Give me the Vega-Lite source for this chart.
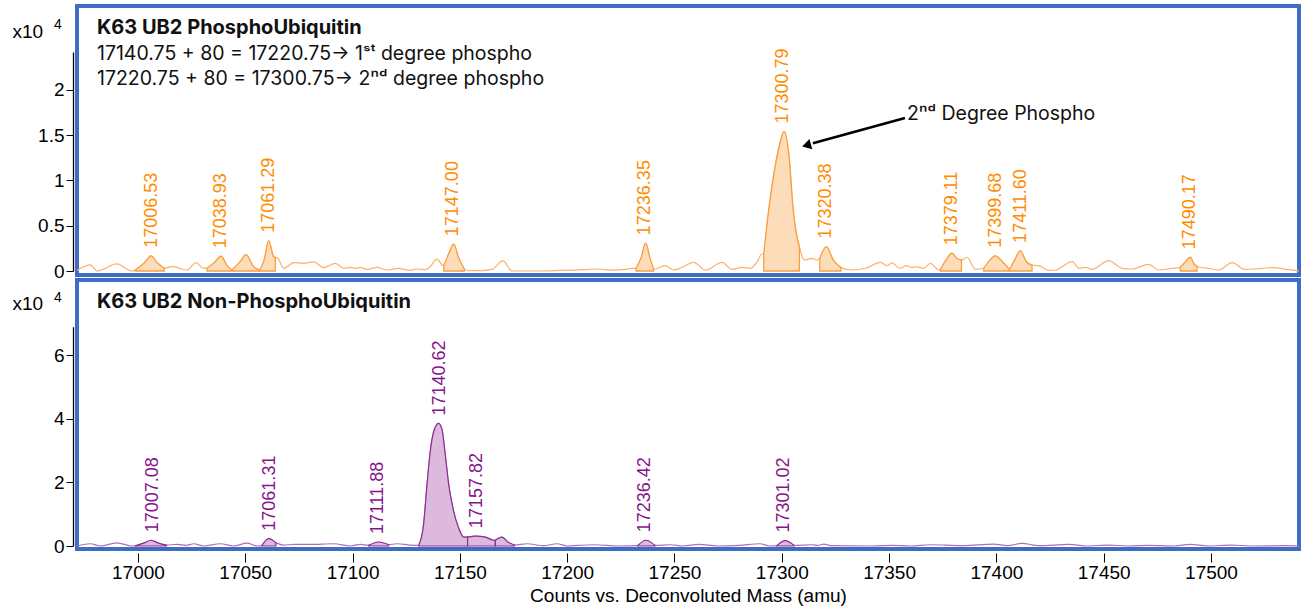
{
  "$schema": "https://vega.github.io/schema/vega-lite/v6.json",
  "padding": {"left": 10, "top": 4, "right": 2, "bottom": 2},
  "background": "white",
  "bounds": "flush",
  "spacing": 5,
  "datasets": {
    "top": [
      {"m":16971.6,"v":0.005},{"m":16977.8,"v":0.067},{"m":16980.9,"v":0.0},{"m":16990.2,"v":0.078},{"m":16997.2,"v":0.0},{"m":16998.8,"v":0.01},{"m":17003,"v":0.09},{"m":17006.1,"v":0.167},{"m":17009,"v":0.09},{"m":17012.3,"v":0.03},{"m":17013.5,"v":0.037},{"m":17016.6,"v":0.048},{"m":17019.5,"v":0.03},{"m":17022.9,"v":0.011},{"m":17027.0,"v":0.093},{"m":17030,"v":0.035},{"m":17032.2,"v":0.03},{"m":17035.5,"v":0.09},{"m":17038.7,"v":0.163},{"m":17041.5,"v":0.06},{"m":17043.8,"v":0.011},{"m":17047.5,"v":0.1},{"m":17050.4,"v":0.181},{"m":17053.5,"v":0.06},{"m":17056.7,"v":0.01},{"m":17058.8,"v":0.12},{"m":17060.9,"v":0.333},{"m":17063.2,"v":0.16},{"m":17064.0,"v":0.15},{"m":17065.0,"v":0.145},{"m":17067.9,"v":0.03},{"m":17072.6,"v":0.093},{"m":17077.2,"v":0.085},{"m":17081.9,"v":0.1},{"m":17086.5,"v":0.037},{"m":17092.0,"v":0.085},{"m":17095.9,"v":0.03},{"m":17099.0,"v":0.04},{"m":17101.5,"v":0.03},{"m":17103.6,"v":0.04},{"m":17106.7,"v":0.018},{"m":17111.4,"v":0.04},{"m":17116.1,"v":0.011},{"m":17121.5,"v":0.03},{"m":17126.9,"v":0.007},{"m":17130.0,"v":0.022},{"m":17134,"v":0.015},{"m":17136.2,"v":0.05},{"m":17139.4,"v":0.13},{"m":17142.1,"v":0.06},{"m":17142.5,"v":0.06},{"m":17145,"v":0.2},{"m":17147.1,"v":0.296},{"m":17149.5,"v":0.14},{"m":17152.1,"v":0.02},{"m":17154,"v":0.005},{"m":17160,"v":0.005},{"m":17165.0,"v":0.018},{"m":17170.1,"v":0.111},{"m":17174.3,"v":0.0},{"m":17188.3,"v":0.0},{"m":17203.8,"v":0.01},{"m":17214.7,"v":0.022},{"m":17220.9,"v":0.01},{"m":17227.1,"v":0.018},{"m":17230.2,"v":0.03},{"m":17232.1,"v":0.03},{"m":17234.5,"v":0.15},{"m":17236.6,"v":0.307},{"m":17238.5,"v":0.15},{"m":17240.3,"v":0.018},{"m":17245.7,"v":0.06},{"m":17249.6,"v":0.011},{"m":17252.6,"v":0.03},{"m":17259.0,"v":0.096},{"m":17264.4,"v":0.011},{"m":17272.2,"v":0.096},{"m":17276.8,"v":0.018},{"m":17281.5,"v":0.04},{"m":17285.4,"v":0.03},{"m":17289,"v":0.12},{"m":17290.5,"v":0.185},{"m":17291.6,"v":0.19},{"m":17293.7,"v":0.63},{"m":17296.6,"v":1.11},{"m":17299.5,"v":1.44},{"m":17301.0,"v":1.54},{"m":17303.4,"v":1.26},{"m":17305.2,"v":0.7},{"m":17306.8,"v":0.41},{"m":17308.2,"v":0.27},{"m":17310.1,"v":0.13},{"m":17311.0,"v":0.122},{"m":17314.1,"v":0.14},{"m":17316.5,"v":0.12},{"m":17317.7,"v":0.14},{"m":17320.8,"v":0.27},{"m":17324,"v":0.12},{"m":17327.6,"v":0.037},{"m":17332.7,"v":0.011},{"m":17339.0,"v":0.03},{"m":17346.0,"v":0.096},{"m":17349,"v":0.06},{"m":17351.4,"v":0.09},{"m":17355,"v":0.03},{"m":17358,"v":0.06},{"m":17360.5,"v":0.04},{"m":17363,"v":0.045},{"m":17366.1,"v":0.03},{"m":17369.2,"v":0.085},{"m":17373.1,"v":0.011},{"m":17373.9,"v":0.015},{"m":17376.5,"v":0.12},{"m":17379.3,"v":0.196},{"m":17381.5,"v":0.14},{"m":17383.7,"v":0.12},{"m":17386.3,"v":0.152},{"m":17390.2,"v":0.018},{"m":17394.1,"v":0.03},{"m":17397,"v":0.12},{"m":17399.5,"v":0.167},{"m":17402.5,"v":0.11},{"m":17406.1,"v":0.018},{"m":17408.5,"v":0.12},{"m":17411.2,"v":0.222},{"m":17414,"v":0.1},{"m":17416.6,"v":0.066},{"m":17419.7,"v":0.059},{"m":17424.4,"v":0.007},{"m":17427.5,"v":0.011},{"m":17435.3,"v":0.104},{"m":17438.4,"v":0.03},{"m":17441.5,"v":0.04},{"m":17444.6,"v":0.018},{"m":17452.3,"v":0.115},{"m":17458.6,"v":0.03},{"m":17463.2,"v":0.022},{"m":17471.0,"v":0.074},{"m":17475.6,"v":0.011},{"m":17481.9,"v":0.03},{"m":17485.7,"v":0.04},{"m":17488,"v":0.1},{"m":17490.4,"v":0.152},{"m":17492,"v":0.08},{"m":17493.5,"v":0.05},{"m":17494.3,"v":0.044},{"m":17498.9,"v":0.03},{"m":17503.6,"v":0.011},{"m":17509.8,"v":0.093},{"m":17515.8,"v":0.018},{"m":17523.8,"v":0.03},{"m":17528.5,"v":0.037},{"m":17536.2,"v":0.015},{"m":17541,"v":0.0}
    ],
    "topfill": [
      {"pk":"A","m":16998.8,"v":0.01},{"pk":"A","m":17003,"v":0.09},{"pk":"A","m":17006.1,"v":0.167},{"pk":"A","m":17009,"v":0.09},{"pk":"A","m":17012.3,"v":0.03},
      {"pk":"B","m":17032.2,"v":0.03},{"pk":"B","m":17035.5,"v":0.09},{"pk":"B","m":17038.7,"v":0.163},{"pk":"B","m":17041.5,"v":0.06},{"pk":"B","m":17043.8,"v":0.011},
      {"pk":"C","m":17043.8,"v":0.011},{"pk":"C","m":17047.5,"v":0.1},{"pk":"C","m":17050.4,"v":0.181},{"pk":"C","m":17053.5,"v":0.06},{"pk":"C","m":17056.7,"v":0.01},
      {"pk":"D","m":17056.7,"v":0.01},{"pk":"D","m":17058.8,"v":0.12},{"pk":"D","m":17060.9,"v":0.333},{"pk":"D","m":17063.2,"v":0.16},{"pk":"D","m":17064.0,"v":0.15},
      {"pk":"E","m":17142.5,"v":0.06},{"pk":"E","m":17145,"v":0.2},{"pk":"E","m":17147.1,"v":0.296},{"pk":"E","m":17149.5,"v":0.14},{"pk":"E","m":17152.1,"v":0.02},
      {"pk":"F","m":17232.1,"v":0.03},{"pk":"F","m":17234.5,"v":0.15},{"pk":"F","m":17236.6,"v":0.307},{"pk":"F","m":17238.5,"v":0.15},{"pk":"F","m":17240.3,"v":0.018},
      {"pk":"G","m":17291.6,"v":0.19},{"pk":"G","m":17293.7,"v":0.63},{"pk":"G","m":17296.6,"v":1.11},{"pk":"G","m":17299.5,"v":1.44},{"pk":"G","m":17301.0,"v":1.54},{"pk":"G","m":17303.4,"v":1.26},{"pk":"G","m":17305.2,"v":0.7},{"pk":"G","m":17306.8,"v":0.41},{"pk":"G","m":17308.2,"v":0.27},
      {"pk":"H","m":17317.7,"v":0.14},{"pk":"H","m":17320.8,"v":0.27},{"pk":"H","m":17324,"v":0.12},{"pk":"H","m":17327.6,"v":0.037},
      {"pk":"I","m":17373.9,"v":0.015},{"pk":"I","m":17376.5,"v":0.12},{"pk":"I","m":17379.3,"v":0.196},{"pk":"I","m":17381.5,"v":0.14},{"pk":"I","m":17383.7,"v":0.12},
      {"pk":"J","m":17394.1,"v":0.03},{"pk":"J","m":17397,"v":0.12},{"pk":"J","m":17399.5,"v":0.167},{"pk":"J","m":17402.5,"v":0.11},{"pk":"J","m":17406.1,"v":0.018},
      {"pk":"K","m":17406.1,"v":0.018},{"pk":"K","m":17408.5,"v":0.12},{"pk":"K","m":17411.2,"v":0.222},{"pk":"K","m":17414,"v":0.1},{"pk":"K","m":17416.6,"v":0.066},
      {"pk":"L","m":17485.7,"v":0.04},{"pk":"L","m":17488,"v":0.1},{"pk":"L","m":17490.4,"v":0.152},{"pk":"L","m":17492,"v":0.08},{"pk":"L","m":17493.5,"v":0.05}
    ],
    "toplab": [
      {"m":17006.53,"v":0.167,"t":"17006.53"},{"m":17038.93,"v":0.163,"t":"17038.93"},{"m":17061.29,"v":0.333,"t":"17061.29"},{"m":17147.00,"v":0.296,"t":"17147.00"},{"m":17236.35,"v":0.307,"t":"17236.35"},{"m":17300.79,"v":1.54,"t":"17300.79"},{"m":17320.38,"v":0.27,"t":"17320.38"},{"m":17379.11,"v":0.196,"t":"17379.11"},{"m":17399.68,"v":0.167,"t":"17399.68"},{"m":17411.60,"v":0.222,"t":"17411.60"},{"m":17490.17,"v":0.152,"t":"17490.17"}
    ],
    "bot": [
      {"m":16971.6,"v":0.0},{"m":16977.8,"v":0.07},{"m":16982.5,"v":0.0},{"m":16990.2,"v":0.1},{"m":16997.2,"v":0.0},{"m":16998.8,"v":0.005},{"m":17003,"v":0.1},{"m":17006.1,"v":0.18},{"m":17009.5,"v":0.09},{"m":17013.2,"v":0.03},{"m":17018.2,"v":0.05},{"m":17022.5,"v":0.02},{"m":17026.0,"v":0.07},{"m":17030.6,"v":0.0},{"m":17038.4,"v":0.07},{"m":17044.6,"v":0.0},{"m":17050.8,"v":0.09},{"m":17055.5,"v":0.0},{"m":17057.8,"v":0.02},{"m":17060.9,"v":0.23},{"m":17064.3,"v":0.1},{"m":17067.9,"v":0.03},{"m":17072.6,"v":0.05},{"m":17080.4,"v":0.05},{"m":17091.2,"v":0.07},{"m":17099.0,"v":0.0},{"m":17103.6,"v":0.05},{"m":17107.5,"v":0.02},{"m":17112.2,"v":0.125},{"m":17116.8,"v":0.04},{"m":17120.7,"v":0.07},{"m":17126.9,"v":0.03},{"m":17130.8,"v":0.02},{"m":17133.1,"v":0.68},{"m":17134.7,"v":1.93},{"m":17136.2,"v":2.97},{"m":17137.8,"v":3.59},{"m":17140.1,"v":3.85},{"m":17141.7,"v":3.65},{"m":17143.2,"v":2.86},{"m":17144.8,"v":1.93},{"m":17147.1,"v":1.09},{"m":17149.4,"v":0.57},{"m":17151.8,"v":0.28},{"m":17153.6,"v":0.28},{"m":17157.2,"v":0.31},{"m":17161.9,"v":0.28},{"m":17165.8,"v":0.18},{"m":17166.5,"v":0.18},{"m":17169.6,"v":0.28},{"m":17172.5,"v":0.12},{"m":17175.4,"v":0.03},{"m":17181.3,"v":0.07},{"m":17189.0,"v":0.01},{"m":17195.3,"v":0.07},{"m":17200,"v":0.0},{"m":17205,"v":0.02},{"m":17213.0,"v":0.04},{"m":17224.0,"v":0.0},{"m":17232.8,"v":0.01},{"m":17236.7,"v":0.18},{"m":17240.9,"v":0.02},{"m":17248.1,"v":0.04},{"m":17254,"v":0.0},{"m":17261.3,"v":0.05},{"m":17270.1,"v":0.0},{"m":17280,"v":0.02},{"m":17289.9,"v":0.07},{"m":17294.3,"v":0.0},{"m":17297.6,"v":0.01},{"m":17301.6,"v":0.17},{"m":17305.7,"v":0.02},{"m":17314.1,"v":0.04},{"m":17317,"v":0.02},{"m":17319.6,"v":0.06},{"m":17322.9,"v":0.01},{"m":17340.5,"v":0.0},{"m":17351.5,"v":0.02},{"m":17360,"v":0.0},{"m":17369.0,"v":0.04},{"m":17384.4,"v":0.01},{"m":17398.7,"v":0.06},{"m":17405.3,"v":0.01},{"m":17411.9,"v":0.083},{"m":17419.6,"v":0.01},{"m":17433.9,"v":0.05},{"m":17441.6,"v":0.0},{"m":17452.5,"v":0.03},{"m":17461.3,"v":0.0},{"m":17471.2,"v":0.02},{"m":17483.3,"v":0.0},{"m":17489.9,"v":0.05},{"m":17498.7,"v":0.0},{"m":17509.7,"v":0.03},{"m":17518.5,"v":0.0},{"m":17533.9,"v":0.01},{"m":17541,"v":0.0}
    ],
    "botfill": [
      {"pk":"a","m":16998.8,"v":0.005},{"pk":"a","m":17003,"v":0.1},{"pk":"a","m":17006.1,"v":0.18},{"pk":"a","m":17009.5,"v":0.09},{"pk":"a","m":17013.2,"v":0.03},
      {"pk":"b","m":17057.8,"v":0.02},{"pk":"b","m":17060.9,"v":0.23},{"pk":"b","m":17064.3,"v":0.1},
      {"pk":"c","m":17107.5,"v":0.02},{"pk":"c","m":17112.2,"v":0.125},{"pk":"c","m":17116.8,"v":0.04},
      {"pk":"d","m":17130.8,"v":0.02},{"pk":"d","m":17133.1,"v":0.68},{"pk":"d","m":17134.7,"v":1.93},{"pk":"d","m":17136.2,"v":2.97},{"pk":"d","m":17137.8,"v":3.59},{"pk":"d","m":17140.1,"v":3.85},{"pk":"d","m":17141.7,"v":3.65},{"pk":"d","m":17143.2,"v":2.86},{"pk":"d","m":17144.8,"v":1.93},{"pk":"d","m":17147.1,"v":1.09},{"pk":"d","m":17149.4,"v":0.57},{"pk":"d","m":17151.8,"v":0.28},{"pk":"d","m":17153.6,"v":0.28},
      {"pk":"e","m":17153.6,"v":0.28},{"pk":"e","m":17157.2,"v":0.31},{"pk":"e","m":17161.9,"v":0.28},{"pk":"e","m":17165.8,"v":0.18},{"pk":"e","m":17166.5,"v":0.18},
      {"pk":"f","m":17166.5,"v":0.18},{"pk":"f","m":17169.6,"v":0.28},{"pk":"f","m":17172.5,"v":0.12},{"pk":"f","m":17175.4,"v":0.03},
      {"pk":"g","m":17232.8,"v":0.01},{"pk":"g","m":17236.7,"v":0.18},{"pk":"g","m":17240.9,"v":0.02},
      {"pk":"h","m":17297.6,"v":0.01},{"pk":"h","m":17301.6,"v":0.17},{"pk":"h","m":17305.7,"v":0.02}
    ],
    "botlab": [
      {"m":17007.08,"v":0.18,"t":"17007.08"},{"m":17061.31,"v":0.23,"t":"17061.31"},{"m":17111.88,"v":0.125,"t":"17111.88"},{"m":17140.62,"v":3.85,"t":"17140.62"},{"m":17157.82,"v":0.31,"t":"17157.82"},{"m":17236.42,"v":0.18,"t":"17236.42"},{"m":17301.02,"v":0.17,"t":"17301.02"}
    ],
    "topnote": [
      {"m":16980.9,"v":2.395,"t":"17140.75 + 80 = 17220.75→ 1ˢᵗ degree phospho"},
      {"m":16980.9,"v":2.119,"t":"17220.75 + 80 = 17300.75→ 2ⁿᵈ degree phospho"},
      {"m":17358.4,"v":1.733,"t":"2ⁿᵈ Degree Phospho"}
    ],
    "toptitle": [{"m":16980.9,"v":2.682,"t":"K63 UB2 PhosphoUbiquitin"}],
    "bottitle": [{"m":16980.9,"v":7.666,"t":"K63 UB2 Non-PhosphoUbiquitin"}],
    "topexp": [{"m":16971.6,"v":2.72,"t":"4"}],
    "botexp": [{"m":16971.6,"v":7.78,"t":"4"}],
    "arrow": [{"m":17357.4,"v":1.689,"m2":17314.5,"v2":1.41}],
    "head": [{"m":17312.2,"v":1.391}]
  },
  "config": {
    "view": {"stroke": "#3D6DC5", "strokeWidth": 4},
    "axis": {"labelFont": "Liberation Sans", "titleFont": "Liberation Sans", "labelColor": "#000", "titleColor": "#000", "tickColor": "#000", "domainColor": "#000", "grid": false, "labelFontSize": 19, "titleFontSize": 19, "titleFontWeight": "normal"}
  },
  "vconcat": [
    {
      "width": 1222, "height": 269,
      "encoding": {
        "x": {"field": "m", "type": "quantitative", "scale": {"domain": [16971.6, 17541], "nice": false, "zero": false}, "axis": null},
        "y": {"field": "v", "type": "quantitative", "stack": null, "scale": {"domain": [0, 2.417], "range": [265, 46], "nice": false, "zero": false},
              "axis": {"values": [0, 0.5, 1, 1.5, 2], "format": "~g", "title": "x10", "titleAngle": 0, "titleAlign": "left", "titleBaseline": "middle", "titleX": -61, "titleY": 25, "offset": 4, "tickSize": 7, "labelPadding": 2, "domainWidth": 1.3}}
      },
      "layer": [
        {"data": {"name": "top"}, "mark": {"type": "line", "color": "#FBB26A", "strokeWidth": 1.2, "interpolate": "monotone"}},
        {"data": {"name": "topfill"}, "mark": {"type": "area", "fill": "#FDDDB9", "fillOpacity": 1, "stroke": "#F8A040", "strokeWidth": 1.3, "interpolate": "monotone"}, "encoding": {"detail": {"field": "pk"}}},
        {"data": {"name": "toplab"}, "mark": {"type": "text", "angle": 270, "align": "left", "baseline": "middle", "dx": 8, "font": "Liberation Sans", "fontSize": 18, "color": "#FF8C00"}, "encoding": {"text": {"field": "t"}}},
        {"data": {"name": "toptitle"}, "mark": {"type": "text", "align": "left", "baseline": "middle", "font": "Inter", "fontWeight": "bold", "fontSize": 20, "color": "#111"}, "encoding": {"text": {"field": "t"}}},
        {"data": {"name": "topnote"}, "mark": {"type": "text", "align": "left", "baseline": "middle", "font": "Inter", "fontSize": 19.5, "color": "#111"}, "encoding": {"text": {"field": "t"}}},
        {"data": {"name": "topexp"}, "mark": {"type": "text", "align": "center", "baseline": "middle", "dx": -19, "font": "Liberation Sans", "fontSize": 14, "color": "#000"}, "encoding": {"text": {"field": "t"}}},
        {"data": {"name": "arrow"}, "mark": {"type": "rule", "strokeWidth": 2.5, "color": "#000"}, "encoding": {"x2": {"field": "m2"}, "y2": {"field": "v2"}}},
        {"data": {"name": "head"}, "mark": {"type": "point", "shape": "triangle", "angle": 254.5, "filled": true, "color": "#000", "opacity": 1, "size": 110}}
      ]
    },
    {
      "width": 1222, "height": 269,
      "encoding": {
        "x": {"field": "m", "type": "quantitative", "scale": {"domain": [16971.6, 17541], "nice": false, "zero": false},
              "axis": {"values": [17000, 17050, 17100, 17150, 17200, 17250, 17300, 17350, 17400, 17450, 17500], "format": "d", "title": "Counts vs. Deconvoluted Mass (amu)", "domain": false, "offset": 4, "tickSize": 9, "labelPadding": 1, "titlePadding": 4}},
        "y": {"field": "v", "type": "quantitative", "stack": null, "scale": {"domain": [0, 6.89], "range": [266, 46.7], "nice": false, "zero": false},
              "axis": {"values": [0, 2, 4, 6], "format": "~g", "title": "x10", "titleAngle": 0, "titleAlign": "left", "titleBaseline": "middle", "titleX": -61, "titleY": 23, "offset": 4, "tickSize": 7, "labelPadding": 2, "domainWidth": 1.3}}
      },
      "layer": [
        {"data": {"name": "bot"}, "mark": {"type": "line", "color": "#B070B0", "strokeWidth": 1.2, "interpolate": "monotone"}},
        {"data": {"name": "botfill"}, "mark": {"type": "area", "fill": "#DDBADD", "fillOpacity": 1, "stroke": "#8E2E8E", "strokeWidth": 1.2, "interpolate": "monotone"}, "encoding": {"detail": {"field": "pk"}}},
        {"data": {"name": "botlab"}, "mark": {"type": "text", "angle": 270, "align": "left", "baseline": "middle", "dx": 8, "font": "Liberation Sans", "fontSize": 18, "color": "#85138A"}, "encoding": {"text": {"field": "t"}}},
        {"data": {"name": "bottitle"}, "mark": {"type": "text", "align": "left", "baseline": "middle", "font": "Inter", "fontWeight": "bold", "fontSize": 20, "color": "#111"}, "encoding": {"text": {"field": "t"}}},
        {"data": {"name": "botexp"}, "mark": {"type": "text", "align": "center", "baseline": "middle", "dx": -19, "font": "Liberation Sans", "fontSize": 14, "color": "#000"}, "encoding": {"text": {"field": "t"}}}
      ]
    }
  ]
}
